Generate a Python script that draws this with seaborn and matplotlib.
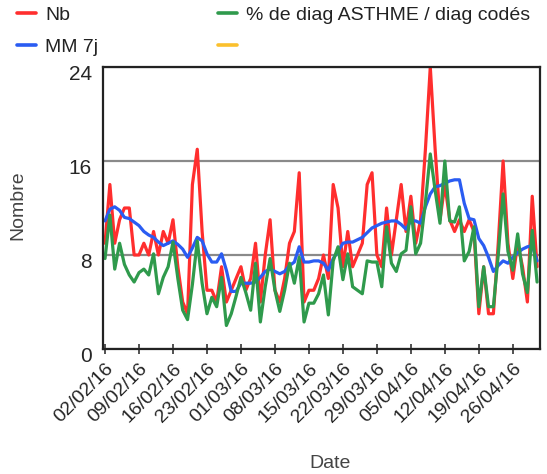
import pandas as pd
import matplotlib
matplotlib.use("Agg")
import matplotlib.pyplot as plt
import matplotlib.dates as mdates
from matplotlib.lines import Line2D
from matplotlib.transforms import ScaledTranslation
import seaborn as sns

# daily values, 02/02/16 -> 01/05/16
start_date = "2016-02-02"
nb = [9, 14, 9, 11, 12, 12, 8, 8, 9, 8,
      10, 8, 10, 9, 11, 7, 4, 3, 14, 17,
      10, 5, 5, 4, 7, 4, 5, 6, 7, 5,
      6, 9, 4, 8, 11, 5, 4, 6, 9, 10,
      15, 4, 5, 5, 6, 8, 6, 14, 12, 7,
      10, 7, 8, 9, 14, 15, 8, 7, 12, 8,
      11, 14, 10, 13, 9, 11, 17, 24, 17, 11,
      14, 11, 10, 11, 10, 11, 10, 3, 7, 3,
      3, 9, 16, 9, 6, 9, 7, 4, 13, 7]
mm_7j = [10.9, 11.9, 12.1, 11.8, 11.2, 11.1, 10.8, 10.5, 10.0, 9.7,
         9.5, 9.1, 8.8, 9.0, 9.2, 8.9, 8.5, 7.8, 8.6, 9.5,
         9.2, 8.1, 7.4, 7.4, 8.1, 6.7, 4.9, 4.9, 5.6, 5.6,
         5.6, 5.7, 6.1, 6.6, 6.8, 6.6, 6.4, 6.6, 7.1, 7.4,
         8.7, 7.4, 7.4, 7.5, 7.5, 7.3, 6.7, 7.7, 8.3, 9.0,
         9.1, 9.1, 9.3, 9.5, 9.9, 10.3, 10.5, 10.7, 10.8, 10.9,
         10.9, 10.6, 10.2, 10.9, 10.9, 10.7, 12.1, 13.2, 13.8, 13.9,
         14.1, 14.3, 14.4, 14.4, 12.4, 11.1, 11.0, 9.4, 8.8, 7.8,
         6.6, 7.1, 7.5, 7.3, 7.8, 8.2, 8.5, 8.7, 8.8, 7.5]
pct_asthme = [7.7, 11.4, 6.8, 9.0, 7.2, 6.3, 5.7, 6.5, 6.8, 6.3,
              8.1, 4.7, 6.1, 7.0, 9.1, 6.0, 3.3, 2.5, 5.5, 9.2,
              5.6, 3.0, 4.4, 3.6, 6.1, 2.0, 3.0, 4.5, 6.1, 4.8,
              3.3, 7.3, 2.3, 5.3, 7.7, 5.0, 3.2, 5.0, 7.3, 5.6,
              7.8, 2.3, 3.9, 3.9, 4.7, 6.3, 2.9, 7.5, 8.7, 5.9,
              8.1, 5.3, 5.0, 4.7, 7.5, 7.4, 7.4, 5.3, 10.4, 7.3,
              6.6, 8.1, 8.4, 12.1, 8.1, 9.0, 12.5, 16.6, 13.5, 10.7,
              16.0, 10.9, 10.8, 12.1, 7.5, 8.3, 10.4, 3.6, 7.0, 3.6,
              3.6, 8.0, 13.2, 8.3, 6.7, 9.8, 6.4, 4.8, 10.1, 5.7]
y_ticks = [0, 8, 16, 24]

RED = "#ff2e2e"
BLUE = "#2a5cf2"
GREEN = "#2f9a4c"
YELLOW = "#fbc02d"

dates = pd.date_range(start_date, periods=len(nb), freq="D")
df = pd.DataFrame({"Date": dates, "Nb": nb, "MM 7j": mm_7j, "pct": pct_asthme})

sns.set_style("white")
plt.rcParams["font.family"] = ["Liberation Sans", "DejaVu Sans"]

fig = plt.figure(figsize=(5.47, 4.74), dpi=100)
ax = fig.add_axes([103 / 547, 1 - 349 / 474, 437 / 547, 282 / 474])

lw = 2.3
sns.lineplot(data=df, x="Date", y="Nb", color=RED, lw=lw, ax=ax)
sns.lineplot(data=df, x="Date", y="MM 7j", color=BLUE, lw=lw, ax=ax)
sns.lineplot(data=df, x="Date", y="pct", color=GREEN, lw=lw, ax=ax)

ax.set_ylim(0, 24)
ax.set_yticks(y_ticks)
ax.set_xlim(dates[0] - pd.Timedelta(hours=10), dates[0] + pd.Timedelta(days=89.6))
ax.set_xticks(pd.date_range(start_date, "2016-04-26", freq="7D"))
ax.xaxis.set_major_formatter(mdates.DateFormatter("%d/%m/%y"))

ax.grid(axis="y", color="#8a8a8a", lw=1.6)
ax.grid(axis="x", visible=False)
for s in ax.spines.values():
    s.set_color("#222222")
    s.set_linewidth(1.6)

ax.tick_params(axis="x", direction="inout", length=7, width=1.1, color="#222222",
               labelsize=14, pad=9, bottom=True)
ax.tick_params(axis="y", length=0, labelsize=15, pad=8)
for lab in ax.get_xticklabels():
    lab.set_rotation(45)
    lab.set_ha("right")
    lab.set_va("center")
    lab.set_rotation_mode("anchor")
    lab.set_transform(lab.get_transform() + ScaledTranslation(0.06, 0, fig.dpi_scale_trans))
for lab in ax.get_yticklabels():
    lab.set_transform(lab.get_transform() + ScaledTranslation(0, -0.06, fig.dpi_scale_trans))

ax.set_xlabel("Date", fontsize=14, color="#444444")
ax.set_ylabel("Nombre", fontsize=14, color="#444444")
ax.xaxis.set_label_coords(0.52, -0.375)
ax.yaxis.set_label_coords(-0.176, 0.51)

def handle(c):
    return Line2D([], [], color=c, lw=2.6)

leg_kw = dict(frameon=False, fontsize=14, handlelength=1.0, handletextpad=0.45,
              labelspacing=0.75, borderpad=0, borderaxespad=0, loc="upper left")
leg1 = fig.legend([handle(RED), handle(BLUE)], ["Nb", "MM 7j"],
                  bbox_to_anchor=(17 / 547, 1 - 6 / 474), **leg_kw)
leg2 = fig.legend([handle(GREEN), handle(YELLOW)], ["% de diag ASTHME / diag codés", ""],
                  bbox_to_anchor=(218 / 547, 1 - 6 / 474), **leg_kw)
for leg in (leg1, leg2):
    for t in leg.get_texts():
        t.set_color("#222222")

fig.savefig("out.png", dpi=100)
